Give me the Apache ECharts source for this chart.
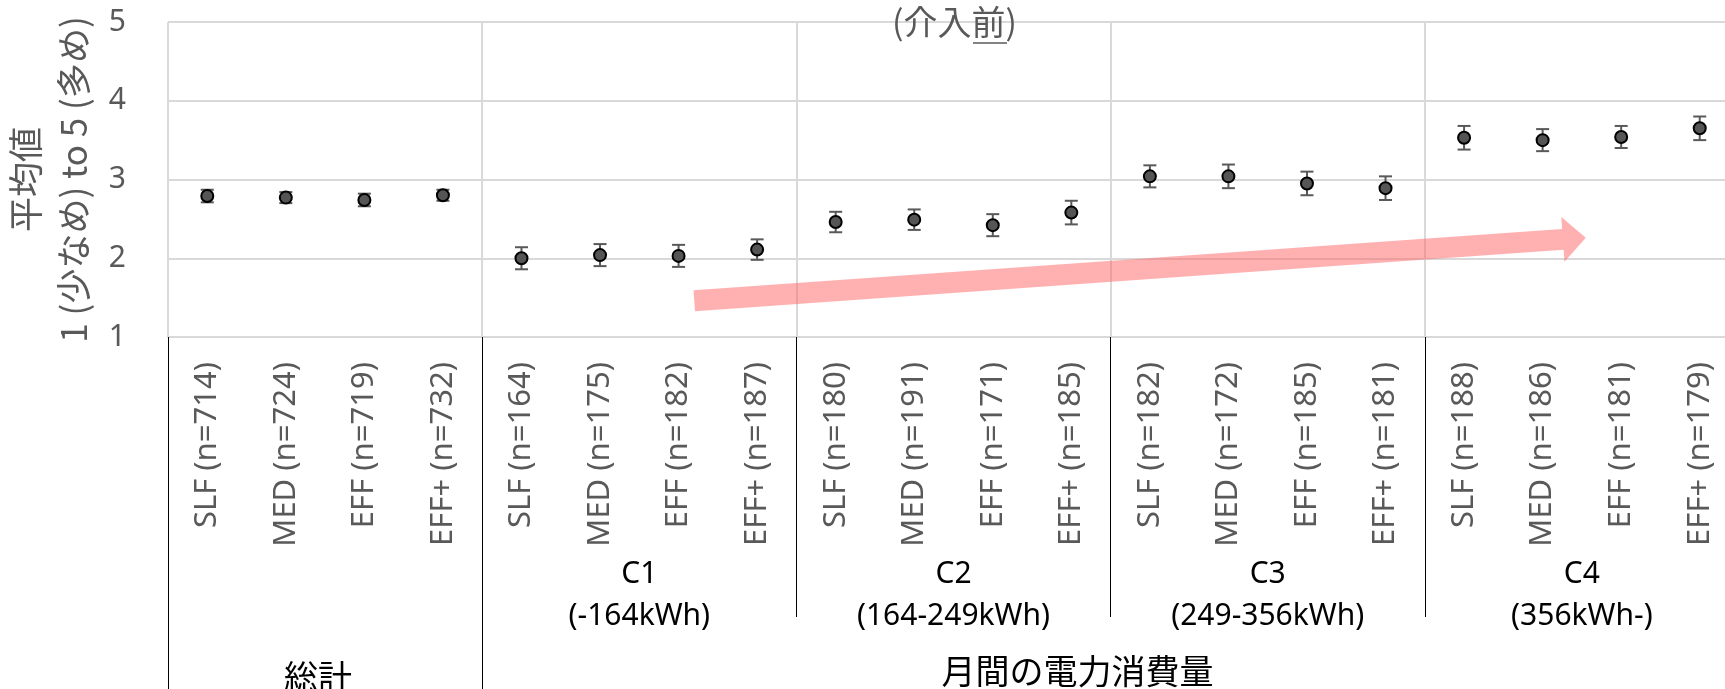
<!DOCTYPE html>
<html><head><meta charset="utf-8">
<script src="https://cdn.jsdelivr.net/npm/echarts@6/dist/echarts.min.js"></script>
<style>html,body{margin:0;padding:0;background:#fff}#c{width:1725px;height:689px}</style>
</head><body><div id="c"></div>
<script>
// ---- data ----
const categories = [
  'SLF (n=714)','MED (n=724)','EFF (n=719)','EFF+ (n=732)',
  'SLF (n=164)','MED (n=175)','EFF (n=182)','EFF+ (n=187)',
  'SLF (n=180)','MED (n=191)','EFF (n=171)','EFF+ (n=185)',
  'SLF (n=182)','MED (n=172)','EFF (n=185)','EFF+ (n=181)',
  'SLF (n=188)','MED (n=186)','EFF (n=181)','EFF+ (n=179)'
];
const means  = [2.79,2.77,2.74,2.80, 2.00,2.04,2.03,2.11, 2.46,2.49,2.42,2.58, 3.04,3.04,2.95,2.89, 3.53,3.50,3.54,3.65];
const errors = [0.08,0.07,0.08,0.07, 0.14,0.14,0.14,0.13, 0.13,0.13,0.14,0.15, 0.14,0.15,0.15,0.15, 0.15,0.14,0.14,0.15];
const groupLabels = ['', 'C1\n(-164kWh)', 'C2\n(164-249kWh)', 'C3\n(249-356kWh)', 'C4\n(356kWh-)'];
const outerLabels = ['総計', '月間の電力消費量'];
const titleText = '(介入前)';
const yAxisName = '平均値\n1 (少なめ) to 5 (多め)';
const yMin = 1, yMax = 5, yStep = 1;

// ---- chart ----
const LATIN = "'Noto Sans', 'Noto Sans CJK JP', sans-serif";
const CJK = "'Noto Sans CJK JP', 'Noto Sans', sans-serif";
const GRID = {left: 168, top: 22, right: -14, bottom: 352, containLabel: false, outerBoundsMode: 'none'};
const chart = echarts.init(document.getElementById('c'), null, {renderer: 'canvas'});

const hiddenY = (gi) => ({type: 'value', gridIndex: gi, min: yMin, max: yMax, interval: yStep, show: false});

const option = {
  backgroundColor: '#fff',
  animation: false,
  title: {
    text: titleText, left: 892, top: 5, padding: 0,
    textStyle: {fontSize: 34, fontWeight: 'normal', color: '#595959', fontFamily: CJK}
  },
  grid: [Object.assign({}, GRID), Object.assign({}, GRID), Object.assign({}, GRID)],
  xAxis: [
    {
      type: 'category', gridIndex: 0, data: categories, position: 'bottom', boundaryGap: true,
      axisLine: {show: true, lineStyle: {color: '#d9d9d9', width: 2}},
      axisTick: {show: true, interval: (i) => i % 4 === 0 && i >= 8, length: 280, lineStyle: {color: '#000', width: 1}},
      axisLabel: {interval: 0, rotate: 90, margin: 25, fontSize: 31, color: '#595959', fontFamily: LATIN},
      splitLine: {show: true, interval: (i) => i % 4 === 0, lineStyle: {color: '#d9d9d9', width: 2}}
    },
    {
      type: 'category', gridIndex: 1, data: categories, position: 'bottom', boundaryGap: true,
      axisLine: {show: false},
      axisTick: {show: true, interval: (i) => i === 0 || i === 4, length: 360, lineStyle: {color: '#000', width: 1}},
      axisLabel: {show: false}, splitLine: {show: false}
    },
    {
      type: 'category', gridIndex: 2, data: groupLabels, position: 'bottom', boundaryGap: true,
      axisLine: {show: false}, axisTick: {show: false}, splitLine: {show: false},
      axisLabel: {interval: 0, margin: 216, fontSize: 30, lineHeight: 42, color: '#000', fontFamily: LATIN}
    }
  ],
  yAxis: [
    {
      type: 'value', gridIndex: 0, min: yMin, max: yMax, interval: yStep,
      axisLine: {show: false}, axisTick: {show: false},
      axisLabel: {fontSize: 30, color: '#595959', margin: 42, fontFamily: LATIN},
      splitLine: {show: true, lineStyle: {color: '#d9d9d9', width: 2}},
      name: yAxisName, nameLocation: 'middle', nameRotate: 90, nameGap: 64,
      nameTextStyle: {fontSize: 35, lineHeight: 48, color: '#595959', fontFamily: CJK, align: 'center'}
    },
    hiddenY(1), hiddenY(2)
  ],
  series: [
    {
      type: 'custom', xAxisIndex: 0, yAxisIndex: 0, z: 3,
      data: means.map((m, i) => [i, m - errors[i], m + errors[i]]),
      encode: {x: 0, y: [1, 2]},
      renderItem: function (params, api) {
        const lo = api.coord([api.value(0), api.value(1)]);
        const hi = api.coord([api.value(0), api.value(2)]);
        const w = 6.5;
        const st = {stroke: '#595959', lineWidth: 2};
        return {type: 'group', children: [
          {type: 'line', shape: {x1: lo[0], y1: lo[1], x2: hi[0], y2: hi[1]}, style: st},
          {type: 'line', shape: {x1: lo[0] - w, y1: lo[1], x2: lo[0] + w, y2: lo[1]}, style: st},
          {type: 'line', shape: {x1: hi[0] - w, y1: hi[1], x2: hi[0] + w, y2: hi[1]}, style: st}
        ]};
      }
    },
    {
      type: 'scatter', xAxisIndex: 0, yAxisIndex: 0, z: 4,
      data: means, symbol: 'circle', symbolSize: 12,
      itemStyle: {color: '#555555', borderColor: '#000', borderWidth: 2, opacity: 1}
    }
  ]
};
chart.setOption(option);

// ---- decorations positioned through the axes ----
const c0 = chart.convertToPixel({gridIndex: 0}, [0, yMin]);
const c1 = chart.convertToPixel({gridIndex: 0}, [1, yMin]);
const step = c1[0] - c0[0];
const toPx = (idx, v) => [c0[0] + idx * step, chart.convertToPixel({gridIndex: 0}, [0, v])[1]];

// trend arrow
const s = toPx(6.2, 1.46), t = toPx(17.55, 2.26);
const dx = t[0] - s[0], dy = t[1] - s[1], L = Math.hypot(dx, dy);
const ux = dx / L, uy = dy / L, nx = -uy, ny = ux;
const hs = 10.5, hh = 22.5, hl = 23;
const e = [t[0] - ux * hl, t[1] - uy * hl];
const pts = [
  [s[0] + nx * hs, s[1] + ny * hs], [e[0] + nx * hs, e[1] + ny * hs], [e[0] + nx * hh, e[1] + ny * hh],
  t, [e[0] - nx * hh, e[1] - ny * hh], [e[0] - nx * hs, e[1] - ny * hs], [s[0] - nx * hs, s[1] - ny * hs]
];

const g0 = toPx(1.41, yMin), g1 = toPx(11.08, yMin);
chart.setOption({
  graphic: [
    {type: 'polygon', z: 2, shape: {points: pts}, style: {fill: 'rgba(255,100,100,0.5)'}},
    {type: 'text', style: {text: outerLabels[0], x: g0[0], y: 677, align: 'center', verticalAlign: 'middle',
      fontSize: 34, fontFamily: CJK, fill: '#000'}},
    {type: 'text', style: {text: outerLabels[1], x: g1[0], y: 671, align: 'center', verticalAlign: 'middle',
      fontSize: 34, fontFamily: CJK, fill: '#000'}},
    {type: 'line', shape: {x1: 973, y1: 43, x2: 1007, y2: 43}, style: {stroke: '#595959', lineWidth: 1.5}}
  ]
});
</script>
</body></html>
